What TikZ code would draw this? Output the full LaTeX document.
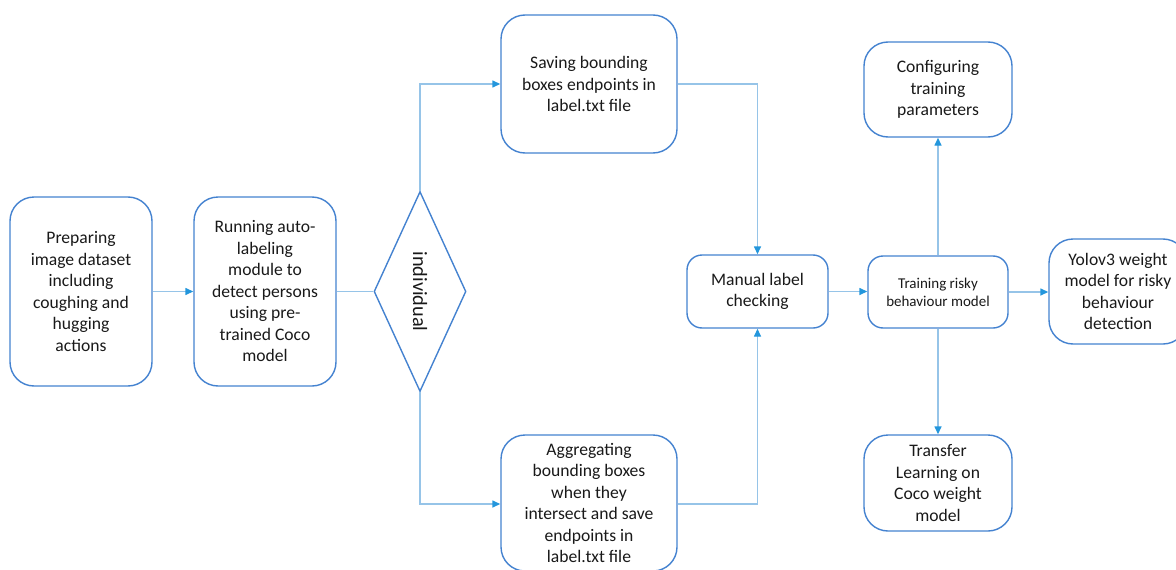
\documentclass[tikz,border=0pt]{standalone}
\usepackage{fontspec}
\setmainfont{Carlito}
\usetikzlibrary{arrows.meta,shapes.geometric}
\definecolor{boxblue}{RGB}{68,130,208}
\definecolor{linkblue}{RGB}{150,196,232}
\definecolor{tipblue}{RGB}{35,150,220}
\definecolor{inkgray}{RGB}{25,25,25}
\tikzset{
  procbox/.style={draw=boxblue, line width=1.4pt, rounded corners=24pt,
    align=center, inner sep=0pt, text=inkgray,
    font=\fontsize{17.6}{21.5}\selectfont},
  smallbox/.style={procbox, rounded corners=15pt},
  link/.style={draw=linkblue, line width=1.4pt},
  linkarrow/.style={link, -{Triangle[length=8pt,width=7pt,color=tipblue]}},
}
\begin{document}
\begin{tikzpicture}[x=1pt,y=-1pt]
\useasboundingbox (0,0) rectangle (1176,570);

% left column
\node[procbox, minimum width=142, minimum height=189] (prep) at (81,291.5)
  {Preparing\\image dataset\\including\\coughing and\\hugging\\actions};
\node[procbox, minimum width=142, minimum height=189] (run) at (265,291.5)
  {Running auto-\\labeling\\module to\\detect persons\\using pre-\\trained Coco\\model};

% decision
\node[diamond, draw=boxblue, line width=1.4pt, inner sep=0pt, aspect=0.46,
  minimum width=92, minimum height=200, text=inkgray,
  font=\fontsize{20.3}{24}\selectfont] (dec) at (420,291.5)
  {\rotatebox{-90}{individual}};

% two branches
\node[procbox, minimum width=176, minimum height=138] (save) at (589,84)
  {Saving bounding\\boxes endpoints in\\label.txt file};
\node[procbox, minimum width=176, minimum height=136] (agg) at (589,503)
  {Aggregating\\bounding boxes\\when they\\intersect and save\\endpoints in\\label.txt file};

% checking and training
\node[smallbox, minimum width=141, minimum height=73] (check) at (757.5,291.5)
  {Manual label\\checking};
\node[smallbox, minimum width=140, minimum height=72, font=\fontsize{15}{18.3}\selectfont]
  (train) at (938,292) {Training risky\\behaviour model};
\node[procbox, minimum width=148, minimum height=95] (conf) at (938,89.5)
  {Configuring\\training\\parameters};
\node[procbox, minimum width=148, minimum height=96] (trans) at (938,483)
  {Transfer\\Learning on\\Coco weight\\model};
\node[procbox, minimum width=138, minimum height=105] (yolo) at (1118,291.5)
  {Yolov3 weight\\model for risky\\behaviour\\detection};

% connectors
\draw[linkarrow] (prep) -- (run);
\draw[link] (run.east) -- (dec.west);
\draw[linkarrow] (dec.north) |- (save.west);
\draw[linkarrow] (dec.south) |- ([yshift=-1pt]agg.west);
\draw[linkarrow] (save.east) -| (check.north);
\draw[linkarrow] ([yshift=-1pt]agg.east) -| (check.south);
\draw[linkarrow] (check.east) -- (check.east -| train.west);
\draw[linkarrow] (train.east) -- (train.east -| yolo.west);
\draw[linkarrow] (train.north) -- (conf.south);
\draw[linkarrow] (train.south) -- (trans.north);
\end{tikzpicture}
\end{document}
